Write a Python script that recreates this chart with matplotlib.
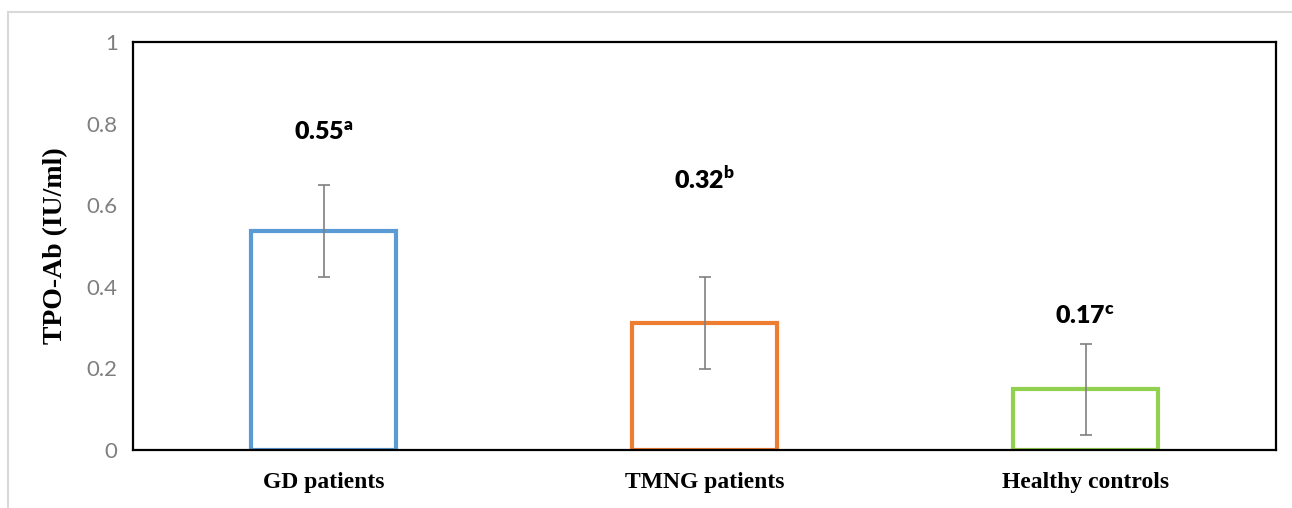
import numpy as np
import matplotlib
matplotlib.use("Agg")
import matplotlib.pyplot as plt
from matplotlib.patches import Rectangle

# data
groups = ["GD patients", "TMNG patients", "Healthy controls"]
means = [0.537, 0.312, 0.149]
errors = [0.112, 0.113, 0.112]
value_labels = ["0.55", "0.32", "0.17"]
letters = ["a", "b", "c"]
label_y = [0.777, 0.659, 0.326]
edge_colors = ["#5B9BD5", "#ED7D31", "#92D050"]

plt.rcParams["mathtext.fontset"] = "custom"
plt.rcParams["mathtext.rm"] = "Lato"
plt.rcParams["mathtext.bf"] = "Lato:heavy"

fig = plt.figure(figsize=(12.92, 5.08), dpi=100)
ax = fig.add_axes([133 / 1292, 58 / 508, 1143 / 1292, 408 / 508])

# outer chart-area border (only left and top edges are visible)
fig.patches.append(Rectangle((8 / 1292, -0.2), 1.2, 0.2 + 496 / 508,
                             transform=fig.transFigure, fill=False,
                             edgecolor="#d9d9d9", linewidth=1.5))

x = np.arange(len(groups))
ax.bar(x, means, width=0.383, color="white", edgecolor=edge_colors,
       linewidth=3, zorder=2)
ax.errorbar(x, means, yerr=errors, fmt="none", ecolor="#808080",
            elinewidth=1.2, capsize=4, capthick=1.2, zorder=3)

for xi, lab, let, yy in zip(x, value_labels, letters, label_y):
    ax.text(xi, yy, r"$\mathbf{" + lab + "}^{\mathbf{" + let + "}}$",
            ha="center", va="center", fontsize=18, color="black")

ax.set_xlim(-0.5, 2.5)
ax.set_ylim(0, 1)
ax.set_yticks([0, 0.2, 0.4, 0.6, 0.8, 1.0])
ax.set_yticklabels(["0", "0.2", "0.4", "0.6", "0.8", "1"],
                   fontfamily="Lato", fontsize=16, color="#7f7f7f")
ax.set_xticks(x)
ax.set_xticklabels(groups, fontfamily="Liberation Serif", fontweight="bold",
                   fontsize=17)
ax.tick_params(axis="y", length=0, pad=11)
ax.tick_params(axis="x", length=0, pad=16)
ax.set_ylabel("TPO-Ab (IU/ml)", fontfamily="Liberation Serif",
              fontweight="bold", fontsize=20, labelpad=13)

for s in ax.spines.values():
    s.set_linewidth(1.6)
    s.set_color("black")

plt.savefig("out.png", dpi=100)
